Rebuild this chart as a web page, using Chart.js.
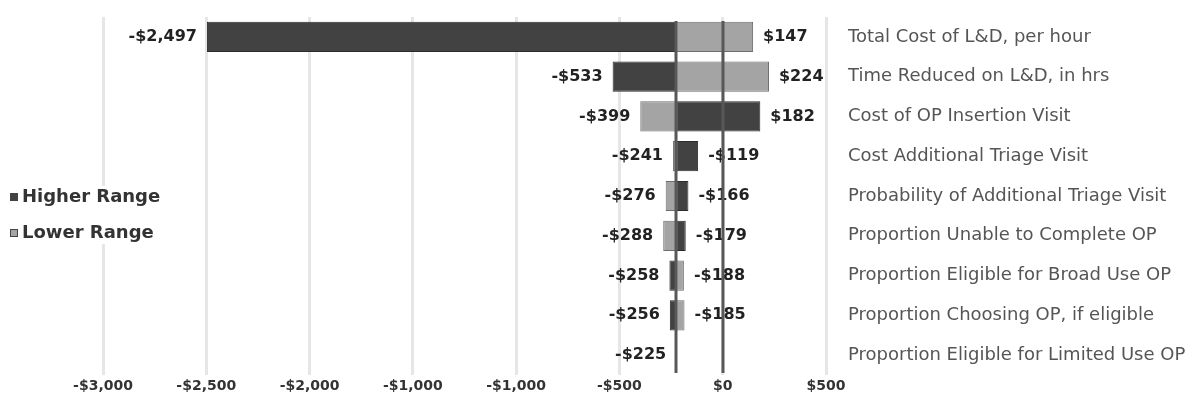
<!DOCTYPE html>
<html>
<head>
<meta charset="utf-8">
<script src="https://cdn.jsdelivr.net/npm/chart.js@4/dist/chart.umd.min.js"></script>
<style>
  html, body { margin: 0; padding: 0; background: #fff; }
  #wrap { width: 1189px; height: 407px; position: relative; }
</style>
</head>
<body>
<div id="wrap"><canvas id="chart"></canvas></div>
<script>
const categories = [
    'Total Cost of L&D, per hour',
    'Time Reduced on L&D, in hrs',
    'Cost of OP Insertion Visit',
    'Cost Additional Triage Visit',
    'Probability of Additional Triage Visit',
    'Proportion Unable to Complete OP',
    'Proportion Eligible for Broad Use OP',
    'Proportion Choosing OP, if eligible',
    'Proportion Eligible for Limited Use OP'
];
const higherRange = [-2497, -533, 182, -119, -166, -179, -258, -256, -225];
const lowerRange = [147, 224, -399, -241, -276, -288, -188, -185, -225];
const baseValue = -225;
const xTickLabels = ['-$3,000', '-$2,500', '-$2,000', '-$1,000', '-$1,000', '-$500', '$0', '$500'];

const darkFill = '#424242';
const lightFill = '#a4a4a4';

function money(v) {
    const s = '$' + Math.abs(v).toLocaleString('en-US');
    return v < 0 ? '-' + s : s;
}

// value labels at both ends of each row, then the base and zero lines on top
const rangeLabels = {
    id: 'rangeLabels',
    afterDatasetsDraw(chart) {
        const { ctx, chartArea, scales: { x, y } } = chart;
        ctx.save();
        ctx.font = 'bold 16px "DejaVu Sans"';
        ctx.fillStyle = '#222';
        ctx.textBaseline = 'middle';
        categories.forEach((c, i) => {
            const lo = Math.min(higherRange[i], lowerRange[i]);
            const hi = Math.max(higherRange[i], lowerRange[i]);
            const yc = y.getPixelForValue(i);
            ctx.textAlign = 'right';
            ctx.fillText(money(lo), x.getPixelForValue(lo) - 10, yc);
            if (hi !== lo) {
                ctx.textAlign = 'left';
                ctx.fillText(money(hi), x.getPixelForValue(hi) + 10, yc);
            }
        });
        ctx.strokeStyle = '#585858';
        ctx.lineWidth = 3;
        [baseValue, 0].forEach(v => {
            const px = Math.round(x.getPixelForValue(v));
            ctx.beginPath();
            ctx.moveTo(px, chartArea.top + 4);
            ctx.lineTo(px, chartArea.bottom - 2);
            ctx.stroke();
        });
        ctx.restore();
    }
};

// legend sits over the left of the plot
const sideLegend = {
    id: 'sideLegend',
    afterDraw(chart) {
        const { ctx } = chart;
        ctx.save();
        ctx.fillStyle = '#fff';
        ctx.fillRect(0, 186, 172, 58);
        ctx.font = 'bold 18px "DejaVu Sans"';
        ctx.textBaseline = 'middle';
        ctx.textAlign = 'left';
        chart.data.datasets.forEach((ds, i) => {
            const yc = 197 + i * 36;
            ctx.fillStyle = ds.backgroundColor;
            ctx.fillRect(10, yc - 4, 8, 8);
            ctx.strokeStyle = '#444';
            ctx.lineWidth = 1;
            ctx.strokeRect(10.5, yc - 3.5, 7, 7);
            ctx.fillStyle = '#333';
            ctx.fillText(ds.label, 22, yc);
        });
        ctx.restore();
    }
};

new Chart(document.getElementById('chart'), {
    type: 'bar',
    data: {
        labels: categories,
        datasets: [{
            label: 'Higher Range',
            data: higherRange.map(v => [baseValue, v]),
            backgroundColor: darkFill,
            borderColor: '#2c2c2c',
            borderWidth: 1,
            borderSkipped: false,
            grouped: false
        }, {
            label: 'Lower Range',
            data: lowerRange.map(v => [baseValue, v]),
            backgroundColor: lightFill,
            borderColor: '#6e6e6e',
            borderWidth: 1,
            borderSkipped: false,
            grouped: false
        }]
    },
    options: {
        indexAxis: 'y',
        responsive: true,
        maintainAspectRatio: false,
        animation: false,
        barPercentage: 0.76,
        categoryPercentage: 1,
        layout: { padding: { left: 103, top: 17, right: 0, bottom: 0 } },
        plugins: {
            legend: { display: false },
            tooltip: { enabled: false }
        },
        scales: {
            x: {
                min: -3000,
                max: 500,
                border: { display: false },
                grid: { color: '#e6e6e6', lineWidth: 3, drawTicks: false },
                ticks: {
                    stepSize: 500,
                    padding: 3,
                    color: '#333',
                    font: { family: 'DejaVu Sans', size: 14, weight: 'bold' },
                    callback: (v, i) => xTickLabels[i]
                },
                afterFit: s => { s.height = 32; }
            },
            y: {
                position: 'right',
                border: { display: false },
                grid: { display: false, drawTicks: false },
                ticks: {
                    padding: 22,
                    color: '#555',
                    font: { family: 'DejaVu Sans', size: 18 }
                },
                afterFit: s => {
                    s.width = 363;
                    s.paddingTop = 0;
                    s.paddingBottom = 0;
                }
            }
        }
    },
    plugins: [rangeLabels, sideLegend]
});
</script>
</body>
</html>
